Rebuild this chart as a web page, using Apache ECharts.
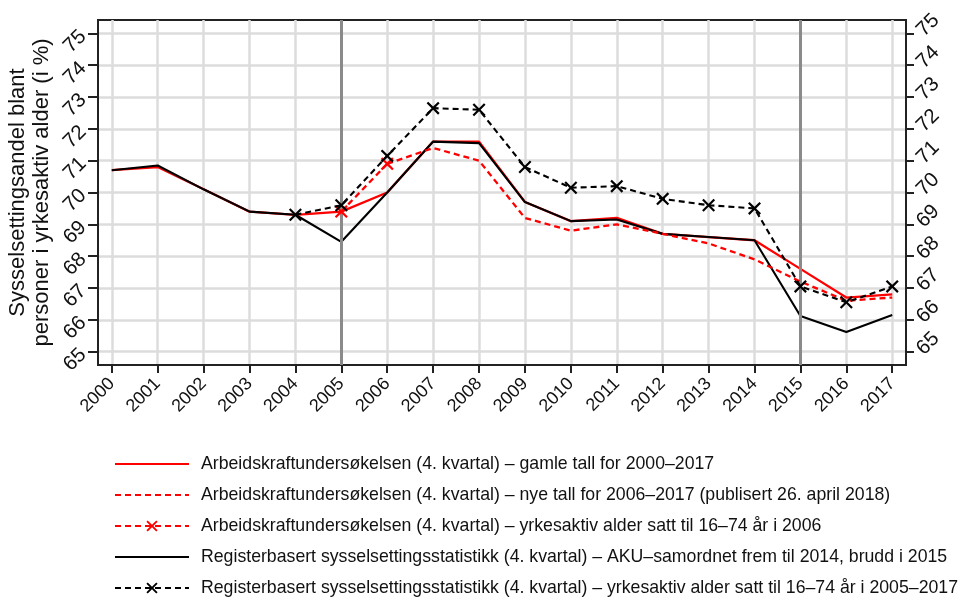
<!DOCTYPE html>
<html>
<head>
<meta charset="utf-8">
<script src="https://cdn.jsdelivr.net/npm/echarts@6/dist/echarts.min.js"></script>
<style>
html,body{margin:0;padding:0;background:#fff;}
#chart{width:967px;height:598px;}
</style>
</head>
<body>
<div id="chart"></div>
<script>
// ---- data ----
const years = [2000,2001,2002,2003,2004,2005,2006,2007,2008,2009,2010,2011,2012,2013,2014,2015,2016,2017];
const akuOld = [70.7,70.8,70.1,69.4,69.3,69.4,70.0,71.6,71.6,69.7,69.1,69.2,68.7,68.6,68.5,67.6,66.7,66.8];
const akuNewYears = [2006,2007,2008,2009,2010,2011,2012,2013,2014,2015,2016,2017];
const akuNew = [70.9,71.4,71.0,69.2,68.8,69.0,68.7,68.4,67.9,67.2,66.6,66.7];
const akuAgeYears = [2005,2006];
const akuAge = [69.4,70.9];
const regBase = [70.7,70.85,70.1,69.4,69.3,68.45,70.0,71.6,71.55,69.7,69.1,69.15,68.7,68.6,68.5,66.12,65.62,66.15];
const regAgeYears = [2004,2005,2006,2007,2008,2009,2010,2011,2012,2013,2014,2015,2016,2017];
const regAge = [69.3,69.6,71.15,72.65,72.6,70.8,70.15,70.2,69.8,69.6,69.5,67.05,66.55,67.05];
const yTicks = [65,66,67,68,69,70,71,72,73,74,75];
const breakYears = [2005,2015];
const names = [
  'Arbeidskraftundersøkelsen (4. kvartal) – gamle tall for 2000–2017',
  'Arbeidskraftundersøkelsen (4. kvartal) – nye tall for 2006–2017 (publisert 26. april 2018)',
  'Arbeidskraftundersøkelsen (4. kvartal) – yrkesaktiv alder satt til 16–74 år i 2006',
  'Registerbasert sysselsettingsstatistikk (4. kvartal) – AKU–samordnet frem til 2014, brudd i 2015',
  'Registerbasert sysselsettingsstatistikk (4. kvartal) – yrkesaktiv alder satt til 16–74 år i 2005–2017'
];
const yTitle = 'Sysselsettingsandel blant\npersoner i yrkesaktiv alder (i %)';

const pair = (xs, ys) => xs.map((x, i) => [x, ys[i]]);
const crossPath = 'path://M0,1.2L1.2,0L5,3.8L8.8,0L10,1.2L6.2,5L10,8.8L8.8,10L5,6.2L1.2,10L0,8.8L3.8,5Z';
const FONT = 'Liberation Sans, Arial, sans-serif';
const lineOnly = [true, true, false, true, false];

const chart = echarts.init(document.getElementById('chart'), null, {renderer: 'canvas'});
const option = {
  backgroundColor: '#fff',
  animation: false,
  textStyle: {fontFamily: FONT},
  grid: {left: 98, right: 61, top: 20, bottom: 233, containLabel: false, outerBoundsMode: 'none',
         show: true, borderColor: '#222', borderWidth: 2, backgroundColor: 'transparent'},
  xAxis: {
    type: 'value', min: 1999.7, max: 2017.3,
    axisLine: {show: true, lineStyle: {color: '#222', width: 2}},
    axisTick: {show: true, length: 8, customValues: years, lineStyle: {color: '#222', width: 2}},
    axisLabel: {customValues: years, formatter: v => String(v), rotate: 45, fontSize: 18, color: '#111', margin: 16, fontFamily: FONT},
    splitLine: {show: true, lineStyle: {color: '#dcdcdc', width: 2.5}}
  },
  yAxis: [
    {
      type: 'value', min: 64.58, max: 75.42, position: 'left',
      name: yTitle, nameLocation: 'middle', nameRotate: 90, nameGap: 44, nameMoveOverlap: false,
      nameTextStyle: {fontSize: 22, lineHeight: 24, color: '#111', fontFamily: FONT},
      axisLine: {show: true, lineStyle: {color: '#222', width: 2}},
      axisTick: {show: true, length: 10, customValues: yTicks, lineStyle: {color: '#222', width: 2}},
      axisLabel: {customValues: yTicks, rotate: 45, fontSize: 20.5, color: '#111', margin: 15, fontFamily: FONT},
      splitLine: {show: true, lineStyle: {color: '#dcdcdc', width: 2.5}}
    },
    {
      type: 'value', min: 64.58, max: 75.42, position: 'right',
      axisLine: {show: true, lineStyle: {color: '#222', width: 2}},
      axisTick: {show: true, length: 8, customValues: yTicks, lineStyle: {color: '#222', width: 2}},
      axisLabel: {customValues: yTicks, rotate: 45, fontSize: 20.5, color: '#111', margin: 14, fontFamily: FONT},
      splitLine: {show: false}
    }
  ],
  legend: {
    orient: 'vertical', left: 109, top: 449, height: 160,
    itemWidth: 74, itemHeight: 14, itemGap: 11,
    textStyle: {fontSize: 17.7, lineHeight: 20, color: '#111', fontFamily: FONT, padding: [0, 0, 0, 7]},
    data: names.map((n, i) => lineOnly[i] ? {name: n, itemStyle: {opacity: 0}} : {name: n})
  },
  series: [
    {
      name: names[0], type: 'line', data: pair(years, akuOld), z: 3,
      symbol: 'none', lineStyle: {color: '#ff0000', width: 2.3}, itemStyle: {color: '#ff0000'},
      markLine: {
        silent: true, symbol: 'none', label: {show: false},
        lineStyle: {color: '#8a8a8a', width: 3, type: 'solid'},
        data: breakYears.map(y => ({xAxis: y}))
      }
    },
    {
      name: names[1], type: 'line', data: pair(akuNewYears, akuNew), z: 5,
      symbol: 'none', lineStyle: {color: '#ff0000', width: 2.3, type: [6, 4]}, itemStyle: {color: '#ff0000'}
    },
    {
      name: names[2], type: 'line', data: pair(akuAgeYears, akuAge), z: 6,
      symbol: crossPath, symbolSize: 13, showAllSymbol: true,
      lineStyle: {color: '#ff0000', width: 2.3, type: [6, 4]}, itemStyle: {color: '#ff0000'}
    },
    {
      name: names[3], type: 'line', data: pair(years, regBase), z: 4,
      symbol: 'none', lineStyle: {color: '#000', width: 2.1}, itemStyle: {color: '#000'}
    },
    {
      name: names[4], type: 'line', data: pair(regAgeYears, regAge), z: 7,
      symbol: crossPath, symbolSize: 13, showAllSymbol: true,
      lineStyle: {color: '#000', width: 2.1, type: [6, 4]}, itemStyle: {color: '#000'}
    }
  ]
};
chart.setOption(option);
</script>
</body>
</html>
